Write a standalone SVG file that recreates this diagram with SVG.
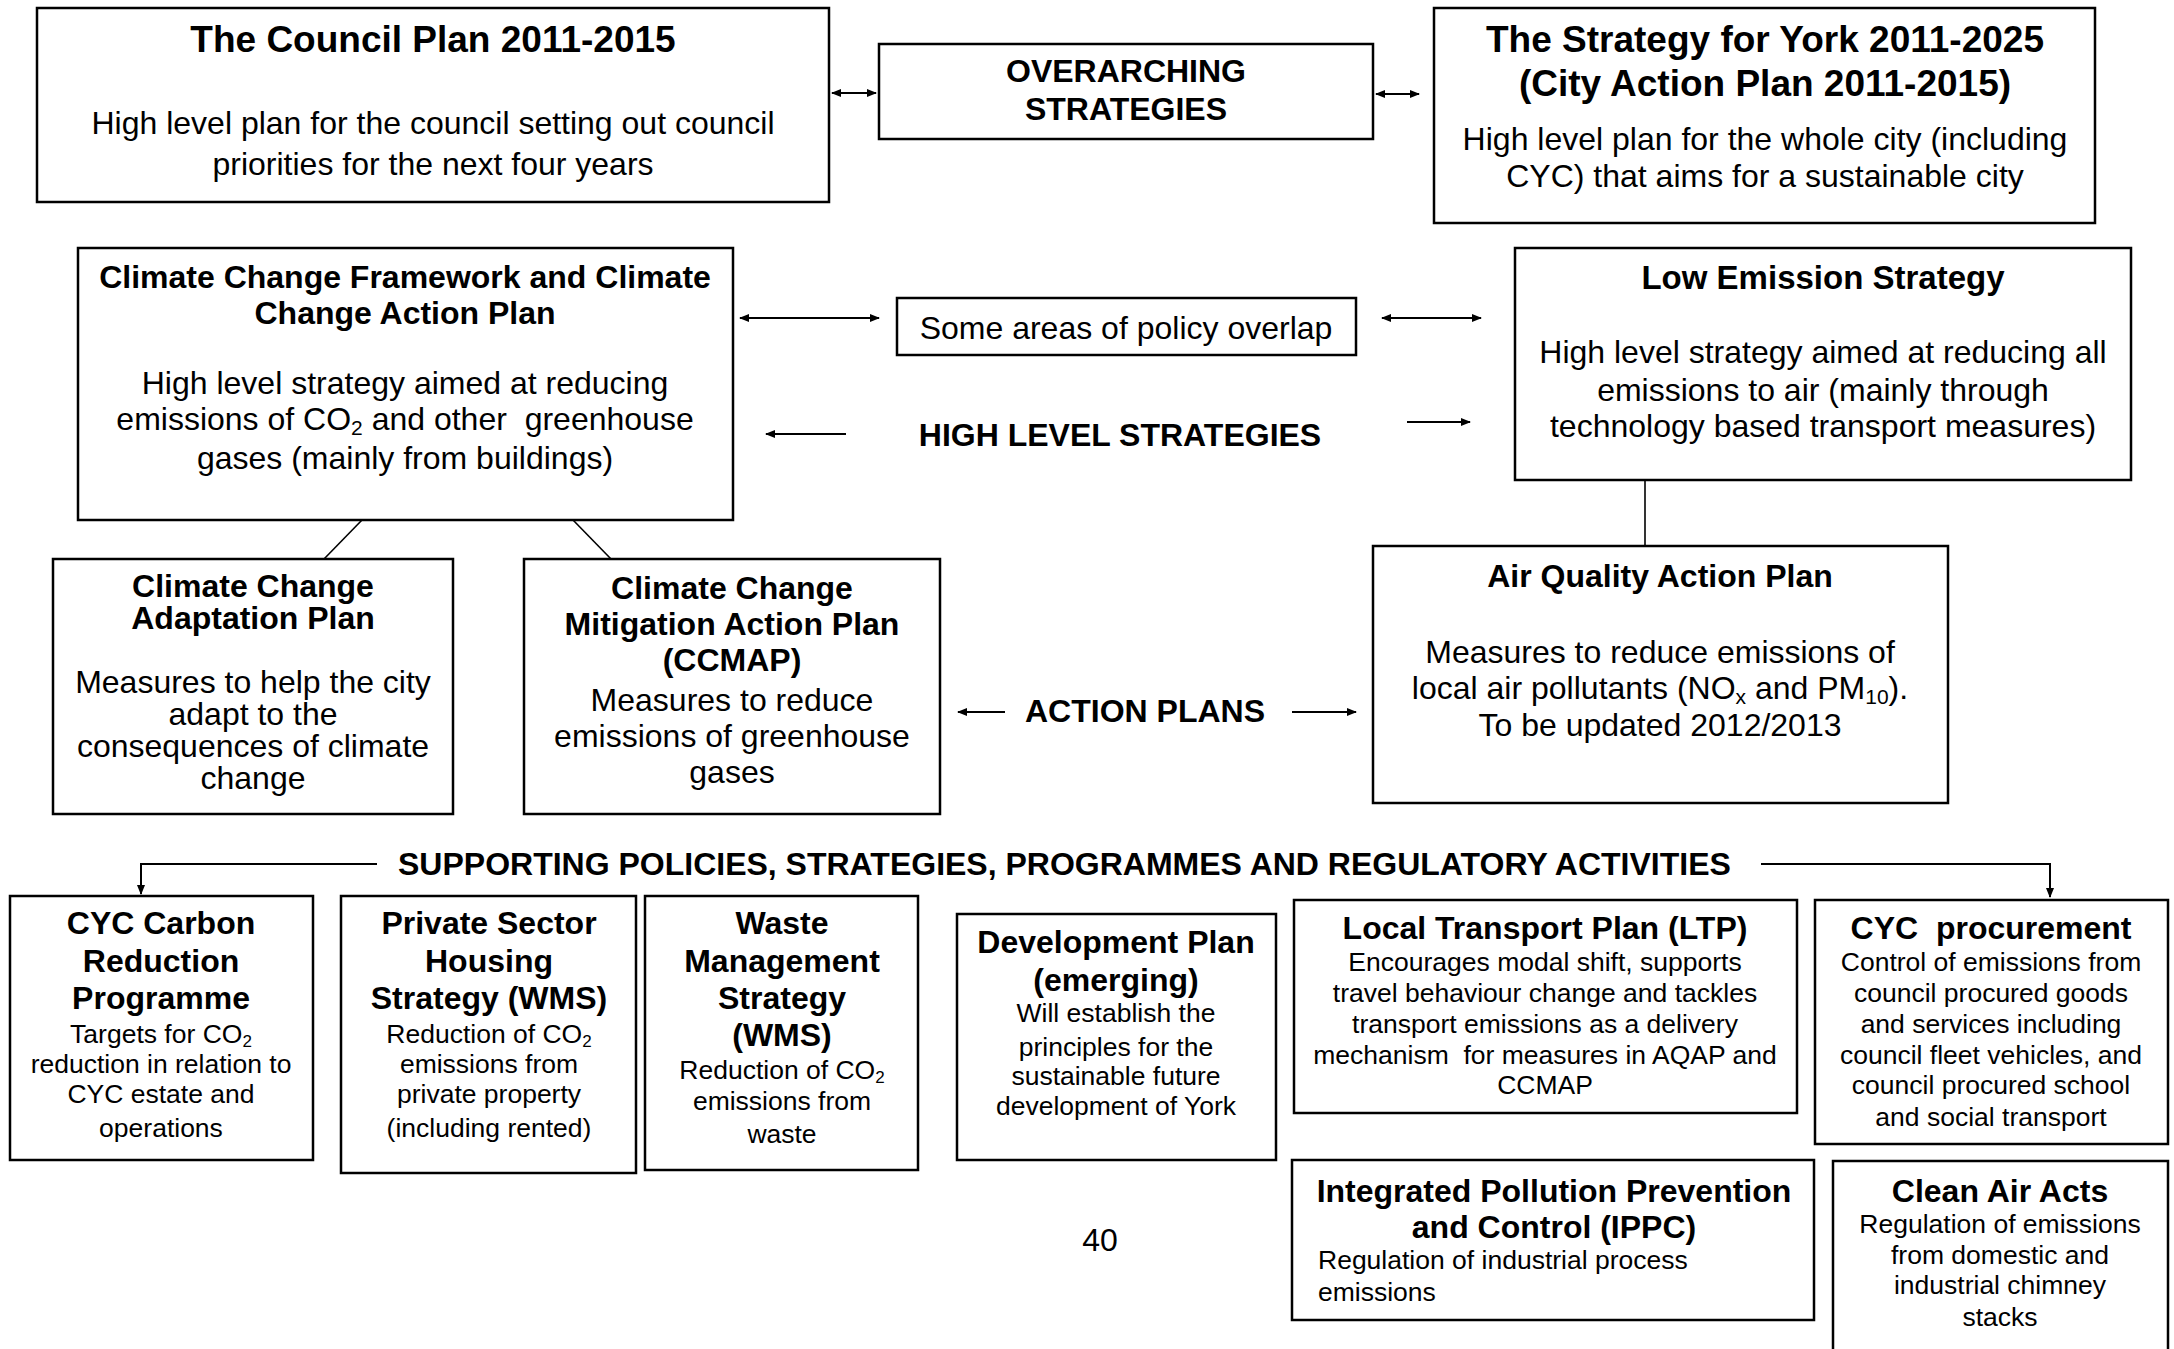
<svg xmlns="http://www.w3.org/2000/svg" width="2174" height="1349" viewBox="0 0 2174 1349">
<style>
.box{fill:#fff;stroke:#000;stroke-width:2.5}
text{font-family:"Liberation Sans",Arial,sans-serif;fill:#000}
.b{font-weight:bold}
.c{text-anchor:middle}
.f37{font-size:37px}
.f33{font-size:33px}
.f32{font-size:32px}
.f26{font-size:26.5px}
.ln{stroke:#000;stroke-width:2;fill:none}
.thin{stroke:#000;stroke-width:1.6;fill:none}
</style>
<defs>
<marker id="ah" viewBox="0 0 10 8" refX="9" refY="4" markerWidth="10" markerHeight="8" markerUnits="userSpaceOnUse" orient="auto-start-reverse">
<path d="M0,0 L10,4 L0,8 z" fill="#000"/>
</marker>
</defs>
<rect width="2174" height="1349" fill="#fff"/>

<g id="connectors">
<line class="ln" x1="832" y1="93" x2="876" y2="93" marker-start="url(#ah)" marker-end="url(#ah)"/>
<line class="ln" x1="1376" y1="94" x2="1419" y2="94" marker-start="url(#ah)" marker-end="url(#ah)"/>
<line class="ln" x1="740" y1="318" x2="879" y2="318" marker-start="url(#ah)" marker-end="url(#ah)"/>
<line class="ln" x1="1382" y1="318" x2="1481" y2="318" marker-start="url(#ah)" marker-end="url(#ah)"/>
<line class="ln" x1="846" y1="434" x2="766" y2="434" marker-end="url(#ah)"/>
<line class="ln" x1="1407" y1="422" x2="1470" y2="422" marker-end="url(#ah)"/>
<line class="thin" x1="362" y1="520" x2="324" y2="559"/>
<line class="thin" x1="573" y1="520" x2="611" y2="559"/>
<line class="thin" x1="1645" y1="480" x2="1645" y2="546"/>
<line class="ln" x1="1005" y1="712" x2="958" y2="712" marker-end="url(#ah)"/>
<line class="ln" x1="1292" y1="712" x2="1356" y2="712" marker-end="url(#ah)"/>
<polyline class="ln" points="377,864 141,864 141,894" marker-end="url(#ah)"/>
<polyline class="ln" points="1761,864 2050,864 2050,897" marker-end="url(#ah)"/>
</g>

<g id="council-plan">
<rect class="box" x="37" y="8" width="792" height="194"/>
<text class="b c f37" x="433" y="52">The Council Plan 2011-2015</text>
<text class="c f32" x="433" y="134">High level plan for the council setting out council</text>
<text class="c f32" x="433" y="175">priorities for the next four years</text>
</g>

<g id="overarching">
<rect class="box" x="879" y="44" width="494" height="95"/>
<text class="b c f32" x="1126" y="82">OVERARCHING</text>
<text class="b c f32" x="1126" y="120">STRATEGIES</text>
</g>

<g id="strategy-york">
<rect class="box" x="1434" y="8" width="661" height="215"/>
<text class="b c f37" x="1765" y="52">The Strategy for York 2011-2025</text>
<text class="b c f37" x="1765" y="96">(City Action Plan 2011-2015)</text>
<text class="c f32" x="1765" y="150">High level plan for the whole city (including</text>
<text class="c f32" x="1765" y="187">CYC) that aims for a sustainable city</text>
</g>

<g id="climate-framework">
<rect class="box" x="78" y="248" width="655" height="272"/>
<text class="b c f32" x="405" y="288">Climate Change Framework and Climate</text>
<text class="b c f32" x="405" y="324">Change Action Plan</text>
<text class="c f32" x="405" y="394">High level strategy aimed at reducing</text>
<text class="c f32" x="405" y="430" xml:space="preserve">emissions of CO<tspan font-size="21" dy="5">2</tspan><tspan dy="-5"> and other  greenhouse</tspan></text>
<text class="c f32" x="405" y="469">gases (mainly from buildings)</text>
</g>

<g id="policy-overlap">
<rect class="box" x="897" y="298" width="459" height="57"/>
<text class="c f32" x="1126" y="339">Some areas of policy overlap</text>
</g>

<g id="low-emission">
<rect class="box" x="1515" y="248" width="616" height="232"/>
<text class="b c f33" x="1823" y="289">Low Emission Strategy</text>
<text class="c f32" x="1823" y="363">High level strategy aimed at reducing all</text>
<text class="c f32" x="1823" y="401">emissions to air (mainly through</text>
<text class="c f32" x="1823" y="437">technology based transport measures)</text>
</g>

<g id="label-high-level">
<text class="b c f32" x="1120" y="446">HIGH LEVEL STRATEGIES</text>
</g>

<g id="adaptation">
<rect class="box" x="53" y="559" width="400" height="255"/>
<text class="b c f32" x="253" y="597">Climate Change</text>
<text class="b c f32" x="253" y="629">Adaptation Plan</text>
<text class="c f32" x="253" y="693">Measures to help the city</text>
<text class="c f32" x="253" y="725">adapt to the</text>
<text class="c f32" x="253" y="757">consequences of climate</text>
<text class="c f32" x="253" y="789">change</text>
</g>

<g id="ccmap">
<rect class="box" x="524" y="559" width="416" height="255"/>
<text class="b c f32" x="732" y="599">Climate Change</text>
<text class="b c f32" x="732" y="635">Mitigation Action Plan</text>
<text class="b c f32" x="732" y="671">(CCMAP)</text>
<text class="c f32" x="732" y="711">Measures to reduce</text>
<text class="c f32" x="732" y="747">emissions of greenhouse</text>
<text class="c f32" x="732" y="783">gases</text>
</g>

<g id="label-action-plans">
<text class="b c f32" x="1145" y="722">ACTION PLANS</text>
</g>

<g id="aqap">
<rect class="box" x="1373" y="546" width="575" height="257"/>
<text class="b c f32" x="1660" y="587">Air Quality Action Plan</text>
<text class="c f32" x="1660" y="663">Measures to reduce emissions of</text>
<text class="c f32" x="1660" y="699">local air pollutants (NO<tspan font-size="21" dy="5">x</tspan><tspan dy="-5"> and PM</tspan><tspan font-size="21" dy="5">10</tspan><tspan dy="-5">).</tspan></text>
<text class="c f32" x="1660" y="736">To be updated 2012/2013</text>
</g>

<g id="label-supporting">
<text class="b f32" x="398" y="875">SUPPORTING POLICIES, STRATEGIES, PROGRAMMES AND REGULATORY ACTIVITIES</text>
</g>

<g id="cyc-carbon">
<rect class="box" x="10" y="896" width="303" height="264"/>
<text class="b c f32" x="161" y="934">CYC Carbon</text>
<text class="b c f32" x="161" y="972">Reduction</text>
<text class="b c f32" x="161" y="1009">Programme</text>
<text class="c f26" x="161" y="1043">Targets for CO<tspan font-size="17" dy="4">2</tspan></text>
<text class="c f26" x="161" y="1073">reduction in relation to</text>
<text class="c f26" x="161" y="1103">CYC estate and</text>
<text class="c f26" x="161" y="1137">operations</text>
</g>

<g id="private-housing">
<rect class="box" x="341" y="896" width="295" height="277"/>
<text class="b c f32" x="489" y="934">Private Sector</text>
<text class="b c f32" x="489" y="972">Housing</text>
<text class="b c f32" x="489" y="1009">Strategy (WMS)</text>
<text class="c f26" x="489" y="1043">Reduction of CO<tspan font-size="17" dy="4">2</tspan></text>
<text class="c f26" x="489" y="1073">emissions from</text>
<text class="c f26" x="489" y="1103">private property</text>
<text class="c f26" x="489" y="1137">(including rented)</text>
</g>

<g id="waste">
<rect class="box" x="645" y="896" width="273" height="274"/>
<text class="b c f32" x="782" y="934">Waste</text>
<text class="b c f32" x="782" y="972">Management</text>
<text class="b c f32" x="782" y="1009">Strategy</text>
<text class="b c f32" x="782" y="1046">(WMS)</text>
<text class="c f26" x="782" y="1079">Reduction of CO<tspan font-size="17" dy="4">2</tspan></text>
<text class="c f26" x="782" y="1110">emissions from</text>
<text class="c f26" x="782" y="1143">waste</text>
</g>

<g id="development-plan">
<rect class="box" x="957" y="914" width="319" height="246"/>
<text class="b c f32" x="1116" y="953">Development Plan</text>
<text class="b c f32" x="1116" y="991">(emerging)</text>
<text class="c f26" x="1116" y="1022">Will establish the</text>
<text class="c f26" x="1116" y="1056">principles for the</text>
<text class="c f26" x="1116" y="1085">sustainable future</text>
<text class="c f26" x="1116" y="1115">development of York</text>
</g>

<g id="ltp">
<rect class="box" x="1294" y="900" width="503" height="213"/>
<text class="b c f32" x="1545" y="939">Local Transport Plan (LTP)</text>
<text class="c f26" x="1545" y="971">Encourages modal shift, supports</text>
<text class="c f26" x="1545" y="1002">travel behaviour change and tackles</text>
<text class="c f26" x="1545" y="1033">transport emissions as a delivery</text>
<text class="c f26" x="1545" y="1064" xml:space="preserve">mechanism  for measures in AQAP and</text>
<text class="c f26" x="1545" y="1094">CCMAP</text>
</g>

<g id="cyc-procurement">
<rect class="box" x="1815" y="900" width="353" height="244"/>
<text class="b c f32" x="1991" y="939" xml:space="preserve">CYC  procurement</text>
<text class="c f26" x="1991" y="971">Control of emissions from</text>
<text class="c f26" x="1991" y="1002">council procured goods</text>
<text class="c f26" x="1991" y="1033">and services including</text>
<text class="c f26" x="1991" y="1064">council fleet vehicles, and</text>
<text class="c f26" x="1991" y="1094">council procured school</text>
<text class="c f26" x="1991" y="1126">and social transport</text>
</g>

<g id="ippc">
<rect class="box" x="1292" y="1160" width="522" height="160"/>
<text class="b c f32" x="1554" y="1202">Integrated Pollution Prevention</text>
<text class="b c f32" x="1554" y="1238">and Control (IPPC)</text>
<text class="f26" x="1318" y="1269">Regulation of industrial process</text>
<text class="f26" x="1318" y="1301">emissions</text>
</g>

<g id="clean-air">
<rect class="box" x="1833" y="1161" width="335" height="200"/>
<text class="b c f32" x="2000" y="1202">Clean Air Acts</text>
<text class="c f26" x="2000" y="1233">Regulation of emissions</text>
<text class="c f26" x="2000" y="1264">from domestic and</text>
<text class="c f26" x="2000" y="1294">industrial chimney</text>
<text class="c f26" x="2000" y="1326">stacks</text>
</g>

<g id="page-number">
<text class="c f32" x="1100" y="1251">40</text>
</g>
</svg>
